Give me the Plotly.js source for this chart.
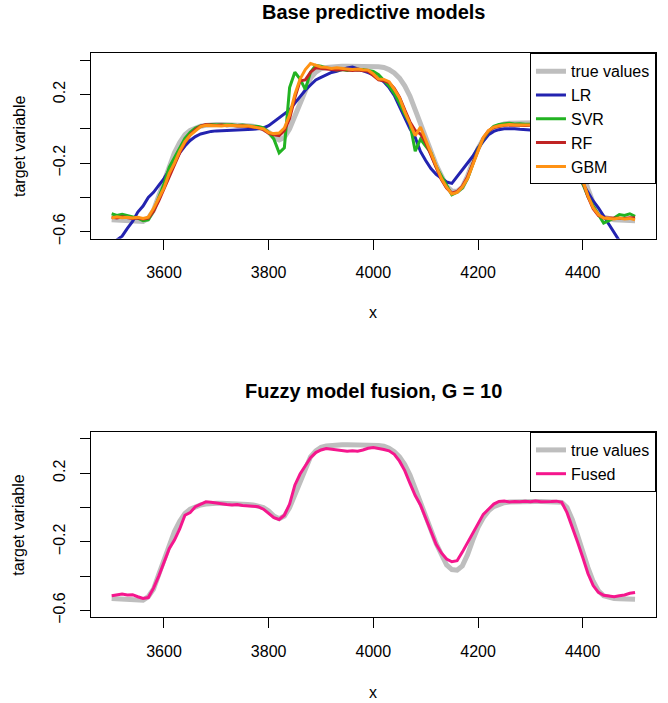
<!DOCTYPE html>
<html>
<head>
<meta charset="utf-8">
<script src="https://cdn.plot.ly/plotly-3.0.1.min.js"></script>
<style>html,body{margin:0;padding:0;background:#fff;}#chart{width:668px;height:703px;}</style>
</head>
<body>
<div id="chart"></div>
<script>
// x positions (shared by all series)
var xVals = [3500,3510,3520,3530,3540,3550,3560,3570,3580,3590,
3600,3610,3620,3630,3640,3650,3660,3670,3680,3690,
3700,3710,3720,3730,3740,3750,3760,3770,3780,3790,
3800,3810,3820,3830,3840,3850,3860,3870,3880,3890,
3900,3910,3920,3930,3940,3950,3960,3970,3980,3990,
4000,4010,4020,4030,4040,4050,4060,4070,4080,4090,
4100,4110,4120,4130,4140,4150,4160,4170,4180,4190,
4200,4210,4220,4230,4240,4250,4260,4270,4280,4290,
4300,4310,4320,4330,4340,4350,4360,4370,4380,4390,
4400,4410,4420,4430,4440,4450,4460,4470,4480,4490,4500];

var trueVals = [-0.530,-0.532,-0.534,-0.535,-0.537,-0.540,-0.540,-0.520,-0.475,-0.390,
-0.300,-0.220,-0.140,-0.080,-0.035,-0.010,0.005,0.015,0.020,0.025,
0.025,0.025,0.025,0.024,0.022,0.020,0.018,0.015,0.010,0.000,
-0.020,-0.050,-0.065,-0.050,0.000,0.075,0.160,0.235,0.295,0.330,
0.350,0.358,0.362,0.365,0.365,0.365,0.365,0.365,0.365,0.365,
0.364,0.362,0.357,0.345,0.325,0.295,0.250,0.190,0.110,0.035,
-0.045,-0.130,-0.210,-0.280,-0.335,-0.362,-0.365,-0.340,-0.275,-0.190,
-0.115,-0.060,-0.020,0.005,0.020,0.028,0.032,0.034,0.035,0.035,
0.035,0.035,0.035,0.035,0.035,0.034,0.030,0.000,-0.070,-0.160,
-0.260,-0.350,-0.430,-0.485,-0.515,-0.525,-0.530,-0.532,-0.533,-0.534,-0.535];

var lrVals = [-0.670,-0.650,-0.625,-0.580,-0.540,-0.485,-0.450,-0.400,-0.370,-0.330,
-0.290,-0.240,-0.195,-0.140,-0.100,-0.068,-0.045,-0.030,-0.022,-0.015,
-0.012,-0.010,-0.008,-0.007,-0.006,-0.005,-0.004,-0.003,-0.001,0.005,
0.018,0.040,0.062,0.085,0.110,0.150,0.190,0.225,0.255,0.285,
0.300,0.315,0.328,0.335,0.345,0.355,0.360,0.350,0.340,0.328,
0.315,0.295,0.274,0.240,0.195,0.130,0.060,0.000,-0.050,-0.132,
-0.185,-0.232,-0.265,-0.290,-0.310,-0.318,-0.280,-0.235,-0.200,-0.160,
-0.110,-0.070,-0.035,-0.015,-0.005,0.000,0.002,0.000,-0.003,-0.005,
-0.006,-0.008,-0.010,-0.012,-0.015,-0.025,-0.045,-0.090,-0.160,-0.250,
-0.320,-0.370,-0.420,-0.460,-0.510,-0.555,-0.605,-0.660,-0.700,-0.740,-0.770];

var svrVals = [-0.495,-0.505,-0.498,-0.505,-0.510,-0.520,-0.535,-0.530,-0.480,-0.400,
-0.320,-0.225,-0.170,-0.115,-0.055,-0.020,0.005,0.017,0.022,0.025,
0.023,0.024,0.022,0.023,0.020,0.022,0.018,0.016,0.013,0.005,
-0.020,-0.060,-0.140,-0.110,0.240,0.330,0.290,0.230,0.330,0.370,
0.365,0.355,0.350,0.342,0.345,0.340,0.345,0.342,0.345,0.342,
0.335,0.315,0.284,0.250,0.205,0.150,0.085,0.030,-0.130,-0.060,
-0.100,-0.140,-0.220,-0.275,-0.330,-0.384,-0.370,-0.345,-0.290,-0.210,
-0.120,-0.060,-0.015,0.015,0.025,0.030,0.032,0.028,0.030,0.027,
0.027,0.030,0.028,0.030,0.030,0.028,0.020,-0.020,-0.100,-0.220,
-0.320,-0.395,-0.450,-0.500,-0.549,-0.535,-0.520,-0.500,-0.505,-0.495,-0.510];

var rfVals = [-0.515,-0.520,-0.512,-0.518,-0.522,-0.520,-0.525,-0.520,-0.480,-0.420,
-0.350,-0.275,-0.205,-0.140,-0.080,-0.035,-0.005,0.015,0.025,0.022,
0.020,0.022,0.018,0.020,0.016,0.018,0.015,0.012,0.006,-0.005,
-0.025,-0.035,-0.040,-0.010,0.060,0.180,0.280,0.285,0.330,0.355,
0.350,0.348,0.345,0.342,0.345,0.342,0.340,0.342,0.338,0.335,
0.310,0.285,0.280,0.270,0.235,0.185,0.110,0.040,-0.010,-0.030,
-0.080,-0.150,-0.225,-0.295,-0.345,-0.375,-0.365,-0.335,-0.280,-0.200,
-0.125,-0.055,-0.012,0.008,0.015,0.020,0.022,0.020,0.022,0.020,
0.021,0.022,0.021,0.023,0.022,0.021,0.012,-0.035,-0.115,-0.215,
-0.305,-0.395,-0.465,-0.505,-0.518,-0.520,-0.518,-0.520,-0.522,-0.518,-0.520];

var gbmVals = [-0.520,-0.512,-0.518,-0.515,-0.520,-0.515,-0.522,-0.515,-0.465,-0.400,
-0.345,-0.260,-0.200,-0.130,-0.075,-0.038,-0.010,0.013,0.020,0.018,
0.020,0.017,0.021,0.019,0.018,0.016,0.018,0.012,0.008,0.000,
-0.022,-0.028,-0.025,0.005,0.080,0.200,0.290,0.345,0.380,0.372,
0.360,0.358,0.352,0.355,0.350,0.348,0.345,0.348,0.344,0.342,
0.320,0.290,0.288,0.275,0.230,0.180,0.100,0.030,-0.040,0.010,
-0.070,-0.140,-0.215,-0.290,-0.340,-0.380,-0.370,-0.340,-0.290,-0.210,
-0.130,-0.050,-0.010,0.010,0.018,0.022,0.025,0.022,0.024,0.022,
0.023,0.025,0.022,0.024,0.025,0.022,0.015,-0.030,-0.110,-0.210,
-0.300,-0.390,-0.460,-0.500,-0.520,-0.522,-0.525,-0.520,-0.525,-0.522,-0.530];

var fusedVals = [-0.515,-0.510,-0.505,-0.510,-0.508,-0.520,-0.530,-0.525,-0.470,-0.400,
-0.320,-0.240,-0.190,-0.125,-0.045,-0.030,0.005,0.020,0.033,0.030,
0.025,0.022,0.018,0.015,0.018,0.012,0.010,0.008,0.005,-0.010,
-0.035,-0.060,-0.070,-0.045,0.020,0.130,0.195,0.245,0.290,0.320,
0.335,0.343,0.340,0.335,0.330,0.328,0.330,0.328,0.335,0.345,
0.350,0.345,0.338,0.330,0.310,0.270,0.215,0.140,0.070,0.015,
-0.060,-0.145,-0.215,-0.265,-0.300,-0.316,-0.310,-0.260,-0.205,-0.150,
-0.090,-0.040,-0.010,0.020,0.035,0.038,0.032,0.035,0.033,0.036,
0.034,0.038,0.033,0.036,0.035,0.037,0.030,-0.030,-0.110,-0.200,
-0.290,-0.385,-0.455,-0.495,-0.512,-0.518,-0.520,-0.515,-0.510,-0.500,-0.495];

var xTicks = [3600, 3800, 4000, 4200, 4400];
var yTicks = [-0.6, -0.4, -0.2, 0, 0.2, 0.4];
var yTickText = ["\u22120.6", "", "\u22120.2", "", "0.2", ""];

var FONT = "Liberation Sans, Arial, Helvetica, sans-serif";

function tr(name, y, color, width, xa, ya, leg) {
  return {x: xVals, y: y, name: name, type: "scatter", mode: "lines",
    line: {color: color, width: width}, xaxis: xa, yaxis: ya, legend: leg, hoverinfo: "skip"};
}

var data = [
  tr("true values", trueVals, "#BEBEBE", 5, "x", "y", "legend"),
  tr("LR", lrVals, "#2323B0", 3, "x", "y", "legend"),
  tr("SVR", svrVals, "#22B322", 3, "x", "y", "legend"),
  tr("RF", rfVals, "#C02323", 3, "x", "y", "legend"),
  tr("GBM", gbmVals, "#FF9214", 3, "x", "y", "legend"),
  tr("true values", trueVals, "#BEBEBE", 5, "x2", "y2", "legend2"),
  tr("Fused", fusedVals, "#F5168D", 3, "x2", "y2", "legend2")
];

function xax(dom, anchor) {
  return {domain: dom, anchor: anchor, range: [3460, 4540], tickvals: xTicks,
    ticks: "outside", ticklen: 10, tickwidth: 1, tickcolor: "#000",
    showline: true, mirror: true, linecolor: "#000", linewidth: 1,
    showgrid: false, zeroline: false, automargin: false,
    ticklabelstandoff: 9, tickfont: {family: FONT, size: 16, color: "#000"}};
}
function yax(dom, anchor) {
  return {domain: dom, anchor: anchor, range: [-0.64, 0.44], tickvals: yTicks, ticktext: yTickText,
    tickangle: -90, ticks: "outside", ticklen: 10, tickwidth: 1, tickcolor: "#000",
    showline: true, mirror: true, linecolor: "#000", linewidth: 1,
    showgrid: false, zeroline: false, automargin: false,
    ticklabelstandoff: 8, tickfont: {family: FONT, size: 16, color: "#000"}};
}
function legendAt(y) {
  return {x: 0.982, xanchor: "right", y: y, yanchor: "top", bgcolor: "#fff",
    bordercolor: "#000", borderwidth: 1, font: {family: FONT, size: 16, color: "#000"},
    tracegroupgap: 0, itemwidth: 30, itemclick: false};
}
function ann(text, x, y, size, angle) {
  return {text: text, x: x, y: y, xref: "paper", yref: "paper", showarrow: false,
    xanchor: "center", yanchor: "middle", textangle: angle || 0,
    font: {family: FONT, size: size, color: "#000"}};
}

var layout = {
  width: 668, height: 703,
  margin: {l: 0, r: 0, t: 0, b: 0},
  paper_bgcolor: "#fff", plot_bgcolor: "#fff",
  showlegend: true,
  xaxis: xax([0.1358, 0.982], "y"),
  yaxis: yax([0.6605, 0.9242], "x"),
  xaxis2: xax([0.1358, 0.982], "y2"),
  yaxis2: yax([0.1219, 0.3855], "x2"),
  legend: legendAt(0.9242),
  legend2: legendAt(0.3855),
  annotations: [
    ann("<b>Base predictive models</b>", 0.559, 0.983, 20),
    ann("<b>Fuzzy model fusion, G = 10</b>", 0.559, 0.4438, 20),
    ann("x", 0.559, 0.5548, 16),
    ann("x", 0.559, 0.0156, 16),
    ann("target variable", 0.0284, 0.7923, 16, -90),
    ann("target variable", 0.0284, 0.2536, 16, -90)
  ]
};

Plotly.newPlot("chart", data, layout, {staticPlot: true, displayModeBar: false});
</script>
</body>
</html>
